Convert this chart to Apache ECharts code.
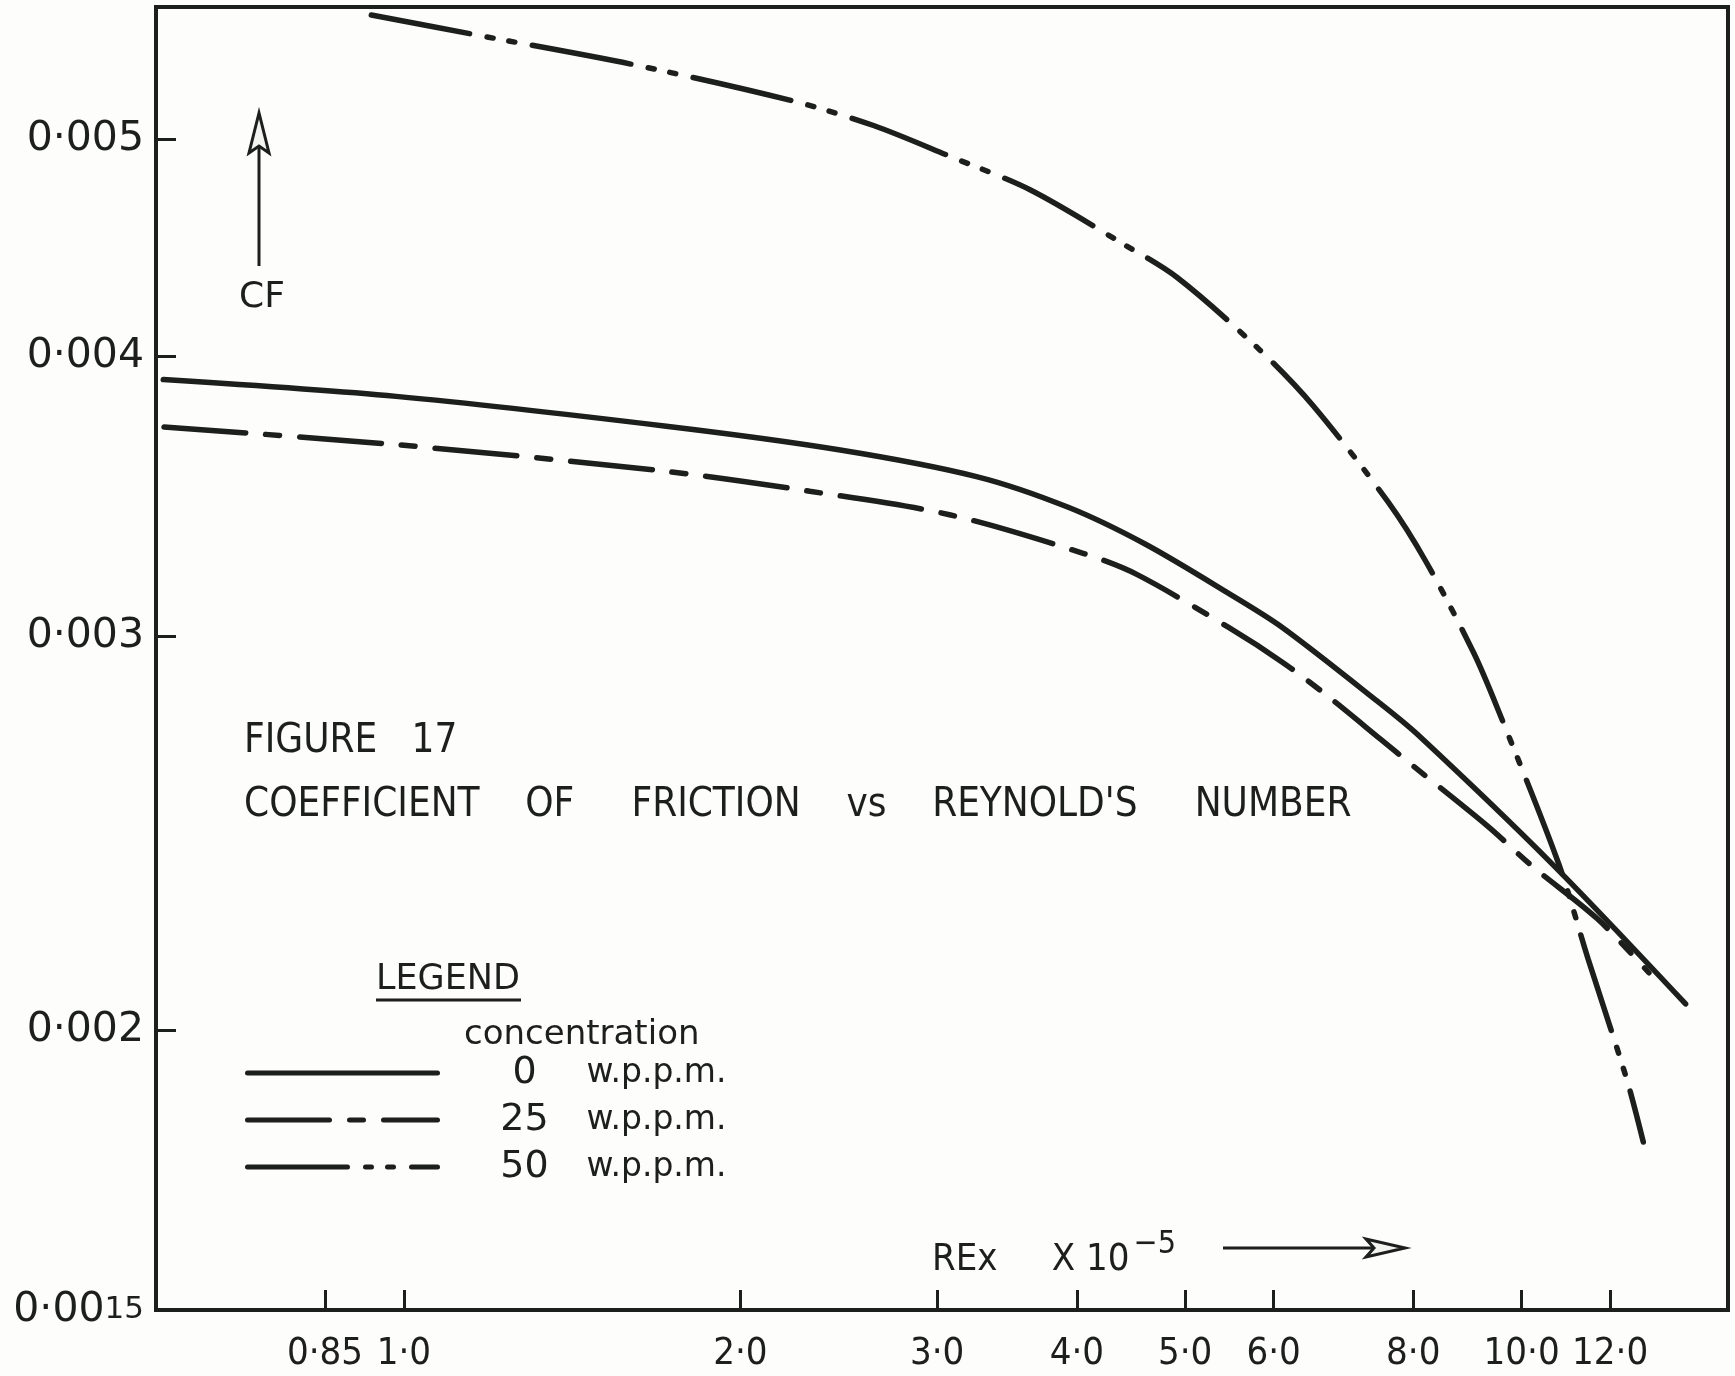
<!DOCTYPE html>
<html><head><meta charset="utf-8">
<script src="https://cdn.jsdelivr.net/npm/echarts@6/dist/echarts.min.js"></script>
<style>html,body{margin:0;padding:0;background:#fdfdfb}#c{width:1735px;height:1376px}</style>
</head><body><div id="c"></div><script>
// Tick values and their printed labels
const xTicks = [0.85, 1.0, 2.0, 3.0, 4.0, 5.0, 6.0, 8.0, 10.0, 12.0];
const xTickLabels = ['0·85', '1·0', '2·0', '3·0', '4·0', '5·0', '6·0', '8·0', '10·0', '12·0'];
const yTicks = [0.0015, 0.002, 0.003, 0.004, 0.005];
const yTickLabels = ['0·0015', '0·002', '0·003', '0·004', '0·005'];

// Series names
const seriesNames = ['0 w.p.p.m.', '25 w.p.p.m.', '50 w.p.p.m.'];

// 0 w.p.p.m. (REx x 10^-5, CF)
const re0 = [0.609, 0.984, 1.717, 2.449, 3.253, 3.930, 4.604, 5.473, 6.113, 7.434, 8.072, 10.67, 14.02];
const cf0 = [0.003906, 0.003839, 0.003723, 0.003634, 0.003535, 0.003425, 0.003298, 0.003134, 0.003026, 0.002805, 0.002711, 0.002371, 0.002055];

// 25 w.p.p.m.
const re25 = [0.610, 0.984, 1.717, 2.307, 3.077, 4.058, 4.530, 5.473, 6.113, 6.722, 7.473, 7.998, 9.318, 10.24, 11.69, 13.00];
const cf25 = [0.003720, 0.003653, 0.003554, 0.003482, 0.003399, 0.003266, 0.003196, 0.003026, 0.002920, 0.002818, 0.002699, 0.002625, 0.002468, 0.002366, 0.002243, 0.002122];

// 50 w.p.p.m.
const re50 = [0.935, 1.160, 1.608, 2.239, 2.635, 3.080, 3.632, 4.390, 4.922, 5.834, 6.509, 7.595, 8.220, 9.060, 9.511, 10.79, 11.47, 12.43, 12.85];
const cf50 = [0.005683, 0.005568, 0.005399, 0.005199, 0.005071, 0.004914, 0.004748, 0.004494, 0.004337, 0.004026, 0.003802, 0.003444, 0.003236, 0.002949, 0.002787, 0.002375, 0.002152, 0.001899, 0.001783];

const INK = '#1d1f1d';
const COND = '"Liberation Sans Narrow", "DejaVu Sans Condensed", "Liberation Sans", sans-serif';
const ROUND = '"DejaVu Sans", "Noto Sans", sans-serif';

function zip(a, b) { return a.map((v, i) => [v, b[i]]); }
function nearestIndex(v, ticks) {
  let best = 0, bd = Infinity;
  ticks.forEach((t, i) => { const d = Math.abs(Math.log(v) - Math.log(t)); if (d < bd) { bd = d; best = i; } });
  return best;
}

const chart = echarts.init(document.getElementById('c'), null, {renderer: 'canvas'});
chart.setOption({
  animation: false,
  backgroundColor: '#fdfdfb',
  color: [INK, INK, INK],
  grid: {left: 156, right: 7, top: 7, bottom: 66, containLabel: false, outerBoundsMode: 'none',
    show: true, borderColor: INK, borderWidth: 4, backgroundColor: 'transparent'},
  title: {
    text: 'FIGURE   17',
    subtext: "COEFFICIENT    OF     FRICTION    vs    REYNOLD'S     NUMBER",
    left: 239, top: 717, itemGap: 24,
    textStyle: {fontFamily: COND, fontSize: 40, fontWeight: 'normal', color: INK},
    subtextStyle: {fontFamily: COND, fontSize: 40, color: INK}
  },
  legend: {
    orient: 'vertical', left: 240, top: 1048, itemWidth: 190, itemHeight: 10, itemGap: 7,
    selectedMode: false,
    lineStyle: {width: 5},
    itemStyle: {opacity: 0},
    data: seriesNames,
    formatter: function (name) { const p = name.split(' '); return '{n|' + p[0] + '}{u|' + p[1] + '}'; },
    textStyle: {
      color: INK, fontFamily: ROUND, fontSize: 32, lineHeight: 40,
      rich: {
        n: {width: 60, align: 'center', padding: [0, 0, 0, 52], fontFamily: ROUND, fontSize: 38, color: INK},
        u: {padding: [0, 0, 0, 32], fontFamily: ROUND, fontSize: 33, color: INK}
      }
    }
  },
  xAxis: {
    type: 'log', logBase: 10, min: 0.6, max: 15.3,
    axisLine: {show: false},
    splitLine: {show: false}, minorTick: {show: false},
    axisTick: {show: true, inside: true, length: 20, lineStyle: {color: INK, width: 3}, customValues: xTicks},
    axisLabel: {customValues: xTicks, margin: 25, fontFamily: COND, fontSize: 38, color: INK,
      formatter: v => xTickLabels[nearestIndex(v, xTicks)]}
  },
  yAxis: {
    type: 'log', logBase: 10, min: 0.0015, max: 0.00573,
    axisLine: {show: false},
    splitLine: {show: false}, minorTick: {show: false},
    axisTick: {show: true, inside: true, length: 20, lineStyle: {color: INK, width: 3}, customValues: yTicks},
    axisLabel: {customValues: yTicks, margin: 12, fontFamily: ROUND, fontSize: 41, color: INK,
      formatter: function (v) {
        const s = yTickLabels[nearestIndex(v, yTicks)];
        // the last two digits of the bottom label are drawn smaller, as in the original
        return s.length > 5 ? '{b|' + s.slice(0, 4) + '}{s|' + s.slice(4) + '}' : s;
      },
      rich: {
        b: {fontFamily: ROUND, fontSize: 41, color: INK, lineHeight: 46, verticalAlign: 'middle'},
        s: {fontFamily: ROUND, fontSize: 31, color: INK, lineHeight: 46, verticalAlign: 'middle'}
      }}
  },
  series: [
    {name: seriesNames[0], type: 'line', data: zip(re0, cf0), symbol: 'none', smooth: 0.3,
      itemStyle: {color: INK},
      lineStyle: {color: INK, width: 5.5, type: 'solid', cap: 'round'}},
    {name: seriesNames[1], type: 'line', data: zip(re25, cf25), symbol: 'none', smooth: 0.3,
      itemStyle: {color: INK},
      lineStyle: {color: INK, width: 5.5, type: [82, 20, 14, 20], cap: 'round'}},
    {name: seriesNames[2], type: 'line', data: zip(re50, cf50), symbol: 'none', smooth: 0.3,
      itemStyle: {color: INK},
      lineStyle: {color: INK, width: 5.5, type: [100, 18, 6, 16, 6, 18], cap: 'round'}}
  ],
  graphic: [
    {type: 'text', x: 376, y: 980, style: {text: 'LEGEND', font: '35px ' + ROUND, fill: INK, align: 'left', verticalAlign: 'middle'}},
    {type: 'line', shape: {x1: 376, y1: 1000, x2: 521, y2: 1000}, style: {stroke: INK, lineWidth: 3}},
    {type: 'text', x: 464, y: 1035, style: {text: 'concentration', font: '34px ' + ROUND, fill: INK, align: 'left', verticalAlign: 'middle'}},
    {type: 'text', x: 239, y: 298, style: {text: 'CF', font: '36px ' + ROUND, fill: INK, align: 'left', verticalAlign: 'middle'}},
    {type: 'line', shape: {x1: 259, y1: 266, x2: 259, y2: 145}, style: {stroke: INK, lineWidth: 3}},
    {type: 'polygon', shape: {points: [[259, 113], [249, 153], [259, 146], [269, 153]]}, style: {fill: '#f3f3f0', stroke: INK, lineWidth: 3}},
    {type: 'text', x: 932, y: 1254, style: {
      text: '{a|REx     X 10}{s|−5}', fill: INK, align: 'left', verticalAlign: 'middle',
      rich: {
        a: {font: '38px ' + COND, fill: INK, verticalAlign: 'bottom', lineHeight: 50},
        s: {font: '32px ' + COND, fill: INK, verticalAlign: 'top', lineHeight: 46, padding: [0, 0, 0, 4]}
      }}},
    {type: 'line', shape: {x1: 1223, y1: 1248, x2: 1380, y2: 1248}, style: {stroke: INK, lineWidth: 3}},
    {type: 'polygon', shape: {points: [[1405, 1248], [1366, 1239], [1374, 1248], [1366, 1257]]}, style: {fill: '#f3f3f0', stroke: INK, lineWidth: 3}}
  ]
});
</script></body></html>
